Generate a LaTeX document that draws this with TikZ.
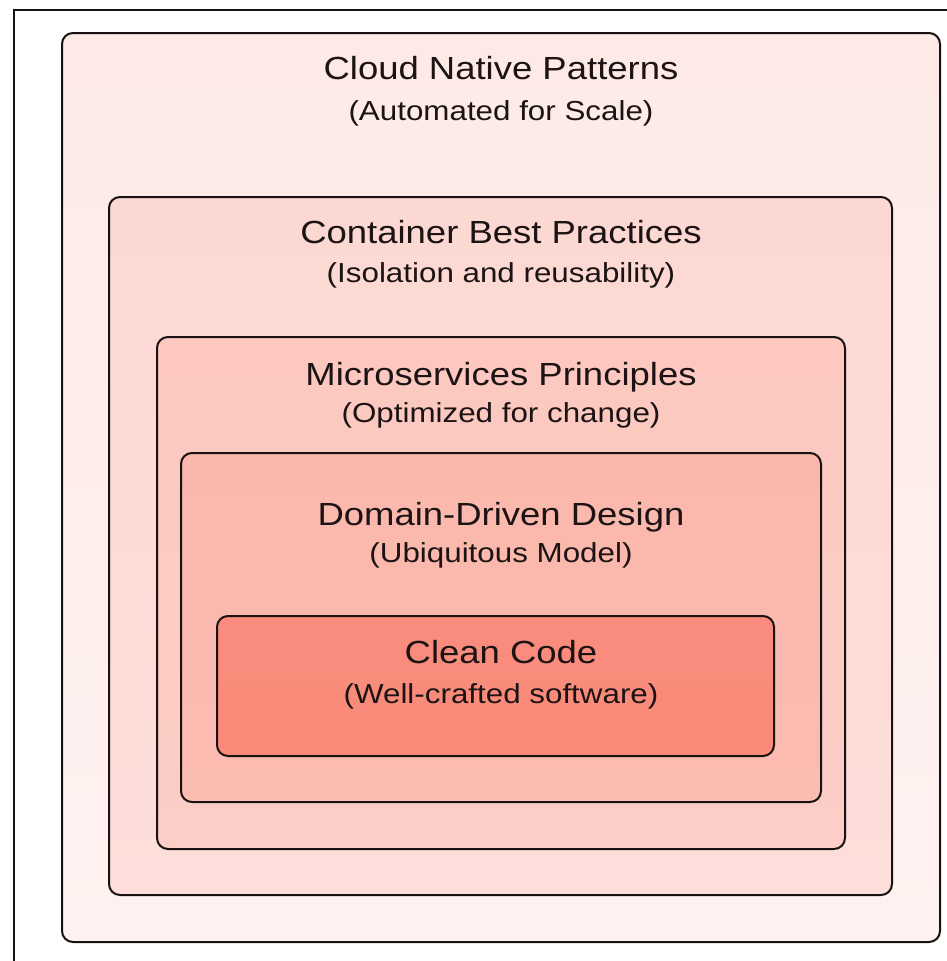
\documentclass[tikz,border=0pt]{standalone}
\usepackage{fontspec}
\setmainfont{Liberation Sans}
\usetikzlibrary{positioning}

\definecolor{inkcol}{HTML}{1C1414}
\definecolor{edgecol}{HTML}{1A1212}
\definecolor{cloudtop}{HTML}{FDEAE7}
\definecolor{cloudbot}{HTML}{FEF2F0}
\definecolor{conttop}{HTML}{FCD8D2}
\definecolor{contbot}{HTML}{FDDEDA}
\definecolor{microtop}{HTML}{FCC8C0}
\definecolor{microbot}{HTML}{FCCEC7}
\definecolor{ddtop}{HTML}{FBB7AC}
\definecolor{ddbot}{HTML}{FBBCB1}
\definecolor{cleantop}{HTML}{F98C7D}
\definecolor{cleanbot}{HTML}{FA8B79}

\tikzset{
  layer/.style={draw=edgecol, line width=2pt, rounded corners=11pt,
    inner sep=0pt, outer sep=0pt},
  headline/.style={anchor=base, text=inkcol, inner sep=0pt,
    font=\fontsize{32}{36}\selectfont, xscale=1.14, transform shape},
  subline/.style={anchor=base, text=inkcol, inner sep=0pt,
    font=\fontsize{27.5}{32}\selectfont, xscale=1.14, transform shape},
}

\begin{document}
\begin{tikzpicture}[x=1pt, y=-1pt]
  \useasboundingbox (0,0) rectangle (947,961);
  \fill[white] (0,0) rectangle (947,961);

  % page frame (left and top edges)
  \coordinate (frameBL) at (14,961);
  \coordinate (frameTL) at (14,10);
  \coordinate (frameTR) at (947,10);
  \draw[edgecol, line width=2pt] (frameBL) -- (frameTL) -- (frameTR);

  % nested layers, outermost first
  \node[layer, top color=cloudtop, bottom color=cloudbot,
        minimum width=878pt, minimum height=909pt] (cloud) at (501,487.5) {};
  \node[layer, top color=conttop, bottom color=contbot,
        minimum width=783pt, minimum height=698pt] (container) at (500.5,546) {};
  \node[layer, top color=microtop, bottom color=microbot,
        minimum width=688pt, minimum height=512pt] (micro) at (501,593) {};
  \node[layer, top color=ddtop, bottom color=ddbot,
        minimum width=640pt, minimum height=349pt] (ddd) at (501,627.5) {};
  \node[layer, top color=cleantop, bottom color=cleanbot,
        minimum width=557pt, minimum height=140pt] (clean) at (495.5,686) {};

  % layer labels
  \node[headline] (cloudT) at (501,79) {Cloud Native Patterns};
  \node[subline]  (cloudS) at (501,120) {(Automated for Scale)};

  \node[headline] (containerT) at (501,243) {Container Best Practices};
  \node[subline]  (containerS) at (501,282) {(Isolation and reusability)};

  \node[headline] (microT) at (501,385) {Microservices Principles};
  \node[subline]  (microS) at (501,422) {(Optimized for change)};

  \node[headline] (dddT) at (501,525) {Domain-Driven Design};
  \node[subline]  (dddS) at (501,562) {(Ubiquitous Model)};

  \node[headline] (cleanT) at (501,663) {Clean Code};
  \node[subline]  (cleanS) at (501,703) {(Well-crafted software)};
\end{tikzpicture}
\end{document}
